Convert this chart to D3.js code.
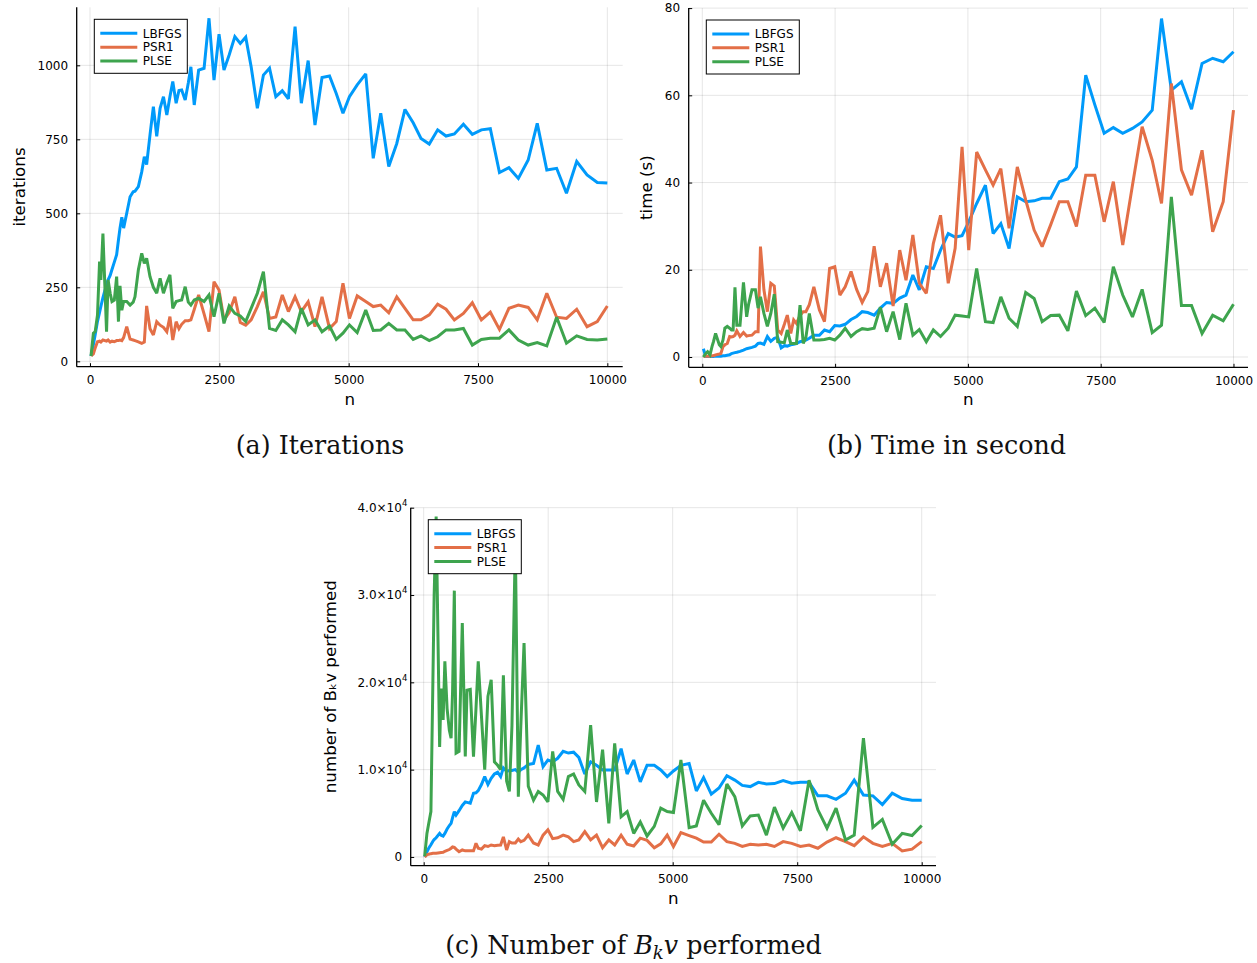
<!DOCTYPE html>
<html>
<head>
<meta charset="utf-8">
<script src="https://cdn.jsdelivr.net/npm/d3@7"></script>
<style>
  body { margin: 0; background: #ffffff; }
  svg { display: block; }
</style>
</head>
<body>
<svg id="fig" width="1257" height="963"></svg>
<script>
// Problem sizes n shared by all three experiments
const sizes = [20, 65, 100, 145, 185, 210, 250, 320, 350, 390,
  425, 470, 515, 550, 580, 615, 650, 710, 775, 835,
  870, 935, 1000, 1050, 1095, 1160, 1225, 1290, 1355, 1420,
  1485, 1545, 1600, 1665, 1720, 1772, 1840, 1900, 1950, 2015,
  2100, 2205, 2300, 2397, 2494, 2590, 2690, 2800, 2905, 3010,
  3115, 3235, 3352, 3470, 3592, 3717, 3835, 3964, 4085, 4217,
  4349, 4485, 4630, 4760, 4890, 5015, 5165, 5330, 5475, 5620,
  5775, 5930, 6088, 6247, 6398, 6558, 6720, 6882, 7043, 7218,
  7390, 7565, 7738, 7915, 8098, 8280, 8470, 8645, 8830, 9020,
  9210, 9408, 9608, 9806, 10000];

// (a) iterations
const iterLBFGS = [18, 55, 90, 135, 165, 185, 215, 260, 275, 290,
  310, 335, 360, 410, 450, 487, 450, 500, 556, 573,
  575, 590, 640, 691, 665, 765, 860, 760, 855, 894,
  832, 894, 945, 872, 915, 917, 883, 940, 995, 866,
  984, 990, 1159, 950, 1105, 984, 1035, 1097, 1074, 1095,
  995, 855, 967, 990, 894, 914, 887, 1131, 872, 1016,
  798, 959, 964, 905, 838, 894, 934, 971, 686, 838,
  658, 736, 851, 806, 753, 734, 782, 761, 768, 801,
  767, 782, 786, 638, 654, 618, 680, 804, 646, 652,
  568, 675, 630, 604, 602];
const iterPSR1 = [18, 25, 45, 66, 68, 65, 72, 68, 72, 65,
  68, 66, 70, 70, 72, 70, 80, 117, 75, 72,
  70, 66, 61, 65, 187, 110, 89, 134, 122, 115,
  100, 151, 72, 134, 110, 125, 137, 137, 140, 175,
  224, 160, 100, 269, 241, 140, 165, 218, 131, 122,
  140, 185, 235, 145, 150, 224, 168, 218, 168, 201,
  117, 218, 111, 134, 264, 145, 221, 202, 185, 190,
  164, 218, 179, 140, 140, 157, 193, 176, 140, 162,
  198, 140, 166, 108, 179, 190, 182, 140, 230, 149,
  145, 176, 117, 134, 187];
const iterPLSE = [18, 95, 100, 157, 337, 275, 432, 100, 275, 230,
  202, 207, 286, 134, 255, 173, 202, 202, 190, 200,
  218, 309, 365, 331, 348, 286, 250, 230, 280, 230,
  265, 292, 179, 202, 205, 207, 252, 200, 190, 207,
  213, 202, 224, 151, 230, 128, 187, 162, 153, 134,
  179, 230, 303, 111, 104, 140, 123, 100, 179, 123,
  140, 100, 119, 74, 95, 123, 97, 173, 104, 106,
  128, 106, 106, 74, 86, 70, 83, 106, 106, 111,
  55, 74, 78, 78, 106, 72, 55, 63, 52, 149,
  61, 86, 74, 72, 75];

// (b) time in seconds
const timeLBFGS = [1.9, 0.1, 0.1, 0.1, 0.1, 0.1, 0.2, 0.2, 0.2, 0.3,
  0.3, 0.4, 0.5, 0.8, 0.9, 1.0, 1.1, 1.3, 1.6, 1.9,
  2.0, 2.2, 2.5, 3.1, 3.2, 2.9, 4.7, 3.6, 4.3, 4.5,
  2.1, 2.6, 2.5, 2.8, 2.9, 3.1, 3.5, 3.7, 3.9, 4.3,
  5.0, 5.0, 6.2, 5.8, 7.2, 7.1, 7.5, 8.6, 9.3, 10.4,
  10.2, 9.6, 11.2, 12.5, 12.3, 13.5, 14.2, 18.8, 15.4, 20.7,
  20.3, 24.5, 28.3, 27.5, 27.8, 31.0, 35.2, 39.4, 28.3, 30.6,
  24.9, 36.7, 35.6, 35.8, 36.4, 36.4, 40.2, 40.8, 43.6, 64.6,
  57.8, 51.3, 52.6, 51.3, 52.4, 53.9, 56.6, 77.6, 61.2, 63.1,
  56.8, 67.3, 68.5, 67.7, 70.0];
const timePSR1 = [0.2, 0.2, 0.2, 0.2, 0.3, 0.3, 0.5, 0.7, 0.8, 2.4,
  2.8, 3.1, 4.7, 4.6, 4.7, 5.0, 6.0, 4.7, 5.6, 4.8,
  4.9, 5.0, 5.8, 5.8, 25.3, 15.4, 10.4, 16.9, 16.3, 6.2,
  5.4, 7.5, 9.6, 5.4, 8.5, 7.7, 9.5, 10.4, 10.4, 12.0,
  16.1, 10.8, 8.1, 20.3, 20.7, 14.2, 16.1, 19.6, 15.5, 12.5,
  15.0, 25.4, 16.1, 21.5, 11.7, 24.5, 17.6, 28.0, 16.9, 14.6,
  26.0, 32.5, 16.9, 24.9, 48.2, 24.5, 47.0, 42.9, 39.4, 43.2,
  29.5, 43.6, 36.0, 29.1, 25.3, 30.3, 35.6, 35.6, 29.9, 41.7,
  41.7, 31.0, 40.2, 25.7, 39.4, 52.8, 45.1, 35.2, 62.7, 42.9,
  37.1, 47.4, 28.7, 35.6, 56.6];
const timePLSE = [0.0, 0.8, 1.2, 0.5, 2.5, 3.5, 5.4, 2.8, 2.4, 3.9,
  6.6, 7.0, 6.6, 6.2, 6.2, 16.0, 7.3, 7.3, 17.1, 9.2,
  12.0, 15.4, 15.4, 11.2, 13.8, 10.0, 7.0, 10.0, 14.4, 3.5,
  3.4, 3.3, 6.2, 3.1, 3.1, 3.1, 11.9, 3.1, 4.5, 10.0,
  3.9, 3.9, 4.0, 4.3, 3.9, 5.0, 6.6, 4.7, 5.8, 6.5,
  6.3, 6.6, 11.4, 5.8, 10.4, 4.0, 12.3, 5.0, 6.3, 3.5,
  6.2, 4.7, 6.6, 9.6, 9.4, 9.2, 20.3, 8.1, 7.9, 13.8,
  8.9, 7.0, 14.8, 13.4, 8.1, 9.5, 9.6, 6.0, 15.1, 9.5,
  11.2, 7.9, 20.7, 14.2, 9.2, 15.5, 5.6, 7.3, 36.7, 11.8,
  11.8, 5.4, 9.6, 8.3, 12.1];

// (c) number of B_k v products
const bkvLBFGS = [0, 600, 1000, 1400, 1800, 2000, 2200, 2700, 2500, 2400,
  2700, 3200, 3600, 3850, 4500, 5200, 4800, 5300, 5900, 6300,
  6250, 6150, 7300, 7350, 7600, 8300, 9200, 8300, 9000, 9500,
  9700, 9200, 10200, 9800, 9900, 9900, 10000, 9700, 10000, 10200,
  10600, 10700, 12800, 10350, 11100, 10900, 11300, 12100, 11900, 12000,
  11400, 9500, 10900, 10500, 9970, 9970, 9970, 12400, 9500, 11100,
  8600, 10500, 10500, 9970, 9200, 9850, 10500, 10700, 7560, 9100,
  7200, 7900, 9300, 8800, 8200, 8060, 8550, 8360, 8400, 8740,
  8440, 8550, 8550, 7000, 7000, 6600, 7300, 8800, 7100, 7000,
  6000, 7300, 6700, 6500, 6500];
const bkvPSR1 = [0, 250, 320, 380, 420, 420, 430, 480, 500, 530,
  650, 750, 850, 1000, 1150, 1100, 900, 600, 800, 700,
  700, 700, 700, 1560, 1000, 900, 1300, 1200, 1370, 1300,
  1350, 1370, 2300, 800, 1760, 1600, 1600, 2060, 1750, 1900,
  2500, 1600, 1370, 2500, 3100, 2100, 2200, 2500, 2300, 1760,
  1950, 2900, 1950, 2500, 1070, 1950, 1370, 2500, 1450, 1250,
  2150, 1900, 1050, 1500, 2500, 1200, 2800, 2450, 2150, 1700,
  1700, 2600, 1760, 1560, 1200, 1450, 1370, 1450, 1200, 1760,
  1560, 1200, 1370, 1000, 1700, 2200, 1760, 1300, 2300, 1560,
  1200, 1560, 690, 900, 1760];
const bkvPLSE = [100, 2700, 3800, 5200, 20300, 30000, 39000, 12600, 19300, 15700,
  22400, 17000, 14500, 13600, 19000, 30500, 11900, 12100, 26800, 11500,
  19100, 19200, 11500, 17000, 22400, 16100, 10000, 18400, 20300, 10900,
  10500, 10000, 20800, 8700, 7500, 15000, 36000, 6900, 15000, 24500,
  8100, 6500, 7500, 7100, 6300, 12100, 7500, 6600, 9200, 9500,
  8250, 7500, 15100, 6300, 12300, 3850, 13000, 4600, 5200, 2700,
  4000, 2400, 3500, 5600, 5200, 5100, 11100, 3360, 3550, 6500,
  5000, 3700, 8360, 6900, 3550, 4700, 4800, 2500, 5700, 3300,
  5100, 3000, 8800, 5400, 3300, 5600, 1950, 2500, 13600, 3400,
  4300, 1450, 2700, 2450, 3600];

const solverNames = ["LBFGS", "PSR1", "PLSE"];
const solverColors = ["#009afa", "#e36f47", "#3ea44e"];
const xTickValues = [0, 2500, 5000, 7500, 10000];

const sansFont = "'DejaVu Sans', Verdana, sans-serif";
const serifFont = "'DejaVu Serif', 'Liberation Serif', serif";

const panels = [
  { key: "a", series: [iterLBFGS, iterPSR1, iterPLSE],
    box: { left: 76.7, right: 622.7, top: 7.3, bottom: 366.7 },
    xDomain: [-257, 10297], yDomain: [-18.2, 1196],
    yTicks: [0, 250, 500, 750, 1000], sci: false,
    yTitle: "iterations", yTitleX: 25 },
  { key: "b", series: [timeLBFGS, timePSR1, timePLSE],
    box: { left: 688.7, right: 1248, top: 8, bottom: 367.3 },
    xDomain: [-256, 10273], yDomain: [-2.36, 80.02],
    yTicks: [0, 20, 40, 60, 80], sci: false,
    yTitle: "time (s)", yTitleX: 651.5 },
  { key: "c", series: [bkvLBFGS, bkvPSR1, bkvPLSE],
    box: { left: 410.7, right: 936, top: 507.7, bottom: 865.7 },
    xDomain: [-261, 10287], yDomain: [-1000, 40000],
    yTicks: [0, 10000, 20000, 30000, 40000], sci: true,
    yTitle: "number of B\u2096v performed", yTitleX: 336 }
];

const svg = d3.select("#fig");

panels.forEach(p => {
  const b = p.box;
  const x = d3.scaleLinear().domain(p.xDomain).range([b.left, b.right]);
  const y = d3.scaleLinear().domain(p.yDomain).range([b.bottom, b.top]);
  const g = svg.append("g").attr("class", "panel-" + p.key);

  // grid
  const grid = g.append("g").attr("stroke", "#000").attr("stroke-opacity", 0.1).attr("stroke-width", 1);
  xTickValues.forEach(t => grid.append("line")
    .attr("x1", x(t)).attr("x2", x(t)).attr("y1", b.top).attr("y2", b.bottom));
  p.yTicks.forEach(t => grid.append("line")
    .attr("x1", b.left).attr("x2", b.right).attr("y1", y(t)).attr("y2", y(t)));

  // axes drawn with d3 axis generators (inward ticks)
  const xAxis = d3.axisBottom(x).tickValues(xTickValues).tickSize(-3.5).tickPadding(0).tickFormat(d3.format("d"));
  const gx = g.append("g").attr("transform", `translate(0,${b.bottom})`).call(xAxis);
  gx.select(".domain").attr("d", `M${b.left},0H${b.right}`).attr("stroke", "#000").attr("stroke-width", 1.3);
  gx.selectAll(".tick line").attr("stroke", "#000");
  gx.selectAll(".tick text").attr("y", 17.5).attr("dy", null)
    .attr("font-family", sansFont).attr("font-size", 12).attr("fill", "#000");

  const yAxis = d3.axisLeft(y).tickValues(p.yTicks).tickSize(-3.5).tickPadding(0).tickFormat(() => "");
  const gy = g.append("g").attr("transform", `translate(${b.left},0)`).call(yAxis);
  gy.select(".domain").attr("d", `M0,${b.bottom}V${b.top}`).attr("stroke", "#000").attr("stroke-width", 1.3);
  gy.selectAll(".tick line").attr("stroke", "#000");
  gy.selectAll(".tick text").remove();

  // y tick labels (plain or scientific with superscript)
  p.yTicks.forEach(t => {
    if (!p.sci || t === 0) {
      g.append("text").attr("x", b.left - 8.6).attr("y", y(t)).attr("dy", "0.36em")
        .attr("text-anchor", "end").attr("font-family", sansFont).attr("font-size", 12)
        .text(d3.format("d")(t));
    } else {
      const exp = Math.floor(Math.log10(t));
      const mant = (t / Math.pow(10, exp)).toFixed(1);
      const tx = g.append("text").attr("x", b.left - 3.4).attr("y", y(t)).attr("dy", "0.36em")
        .attr("text-anchor", "end").attr("font-family", sansFont).attr("font-size", 12);
      tx.append("tspan").text(mant + "\u00d710");
      tx.append("tspan").attr("font-size", 8.5).attr("dy", -6).text(String(exp));
    }
  });

  // axis titles
  g.append("text").attr("x", (b.left + b.right) / 2).attr("y", b.bottom + 38)
    .attr("text-anchor", "middle").attr("font-family", sansFont).attr("font-size", 16.7).text("n");
  g.append("text").attr("transform", `translate(${p.yTitleX},${(b.top + b.bottom) / 2}) rotate(-90)`)
    .attr("text-anchor", "middle").attr("font-family", sansFont).attr("font-size", 16.7).text(p.yTitle);

  // series
  const clipId = "clip-" + p.key;
  g.append("clipPath").attr("id", clipId).append("rect")
    .attr("x", b.left).attr("y", b.top).attr("width", b.right - b.left).attr("height", b.bottom - b.top);
  const line = d3.line().x((d, i) => x(sizes[i])).y(d => y(d));
  const lines = g.append("g").attr("clip-path", `url(#${clipId})`);
  p.series.forEach((vals, k) => {
    lines.append("path").datum(vals).attr("d", line)
      .attr("fill", "none").attr("stroke", solverColors[k]).attr("stroke-width", 3)
      .attr("stroke-linejoin", "miter").attr("stroke-miterlimit", 2.5);
  });

  // legend
  const lx = b.left + 17.6, ly = b.top + 12;
  const lg = g.append("g").attr("transform", `translate(${lx},${ly})`);
  lg.append("rect").attr("width", 93).attr("height", 54)
    .attr("fill", "#fff").attr("stroke", "#000").attr("stroke-width", 1);
  solverNames.forEach((name, k) => {
    const cy = 14 + k * 13.85;
    lg.append("line").attr("x1", 6).attr("x2", 43).attr("y1", cy).attr("y2", cy)
      .attr("stroke", solverColors[k]).attr("stroke-width", 3);
    lg.append("text").attr("x", 48.5).attr("y", cy).attr("dy", "0.36em")
      .attr("font-family", sansFont).attr("font-size", 12).text(name);
  });
});

// sub-figure captions
const captions = svg.append("g").attr("font-family", serifFont).attr("font-size", 25.4).attr("fill", "#111")
  .attr("text-anchor", "middle");
captions.append("text").attr("x", 320).attr("y", 454).text("(a) Iterations");
captions.append("text").attr("x", 946.5).attr("y", 454).text("(b) Time in second");
const cap = captions.append("text").attr("x", 633.5).attr("y", 953.5);
cap.append("tspan").text("(c) Number of ");
cap.append("tspan").attr("font-style", "italic").text("B");
cap.append("tspan").attr("font-style", "italic").attr("font-size", 18).attr("dy", 5).text("k");
cap.append("tspan").attr("font-style", "italic").attr("dy", -5).text("v");
cap.append("tspan").text(" performed");
</script>
</body>
</html>
